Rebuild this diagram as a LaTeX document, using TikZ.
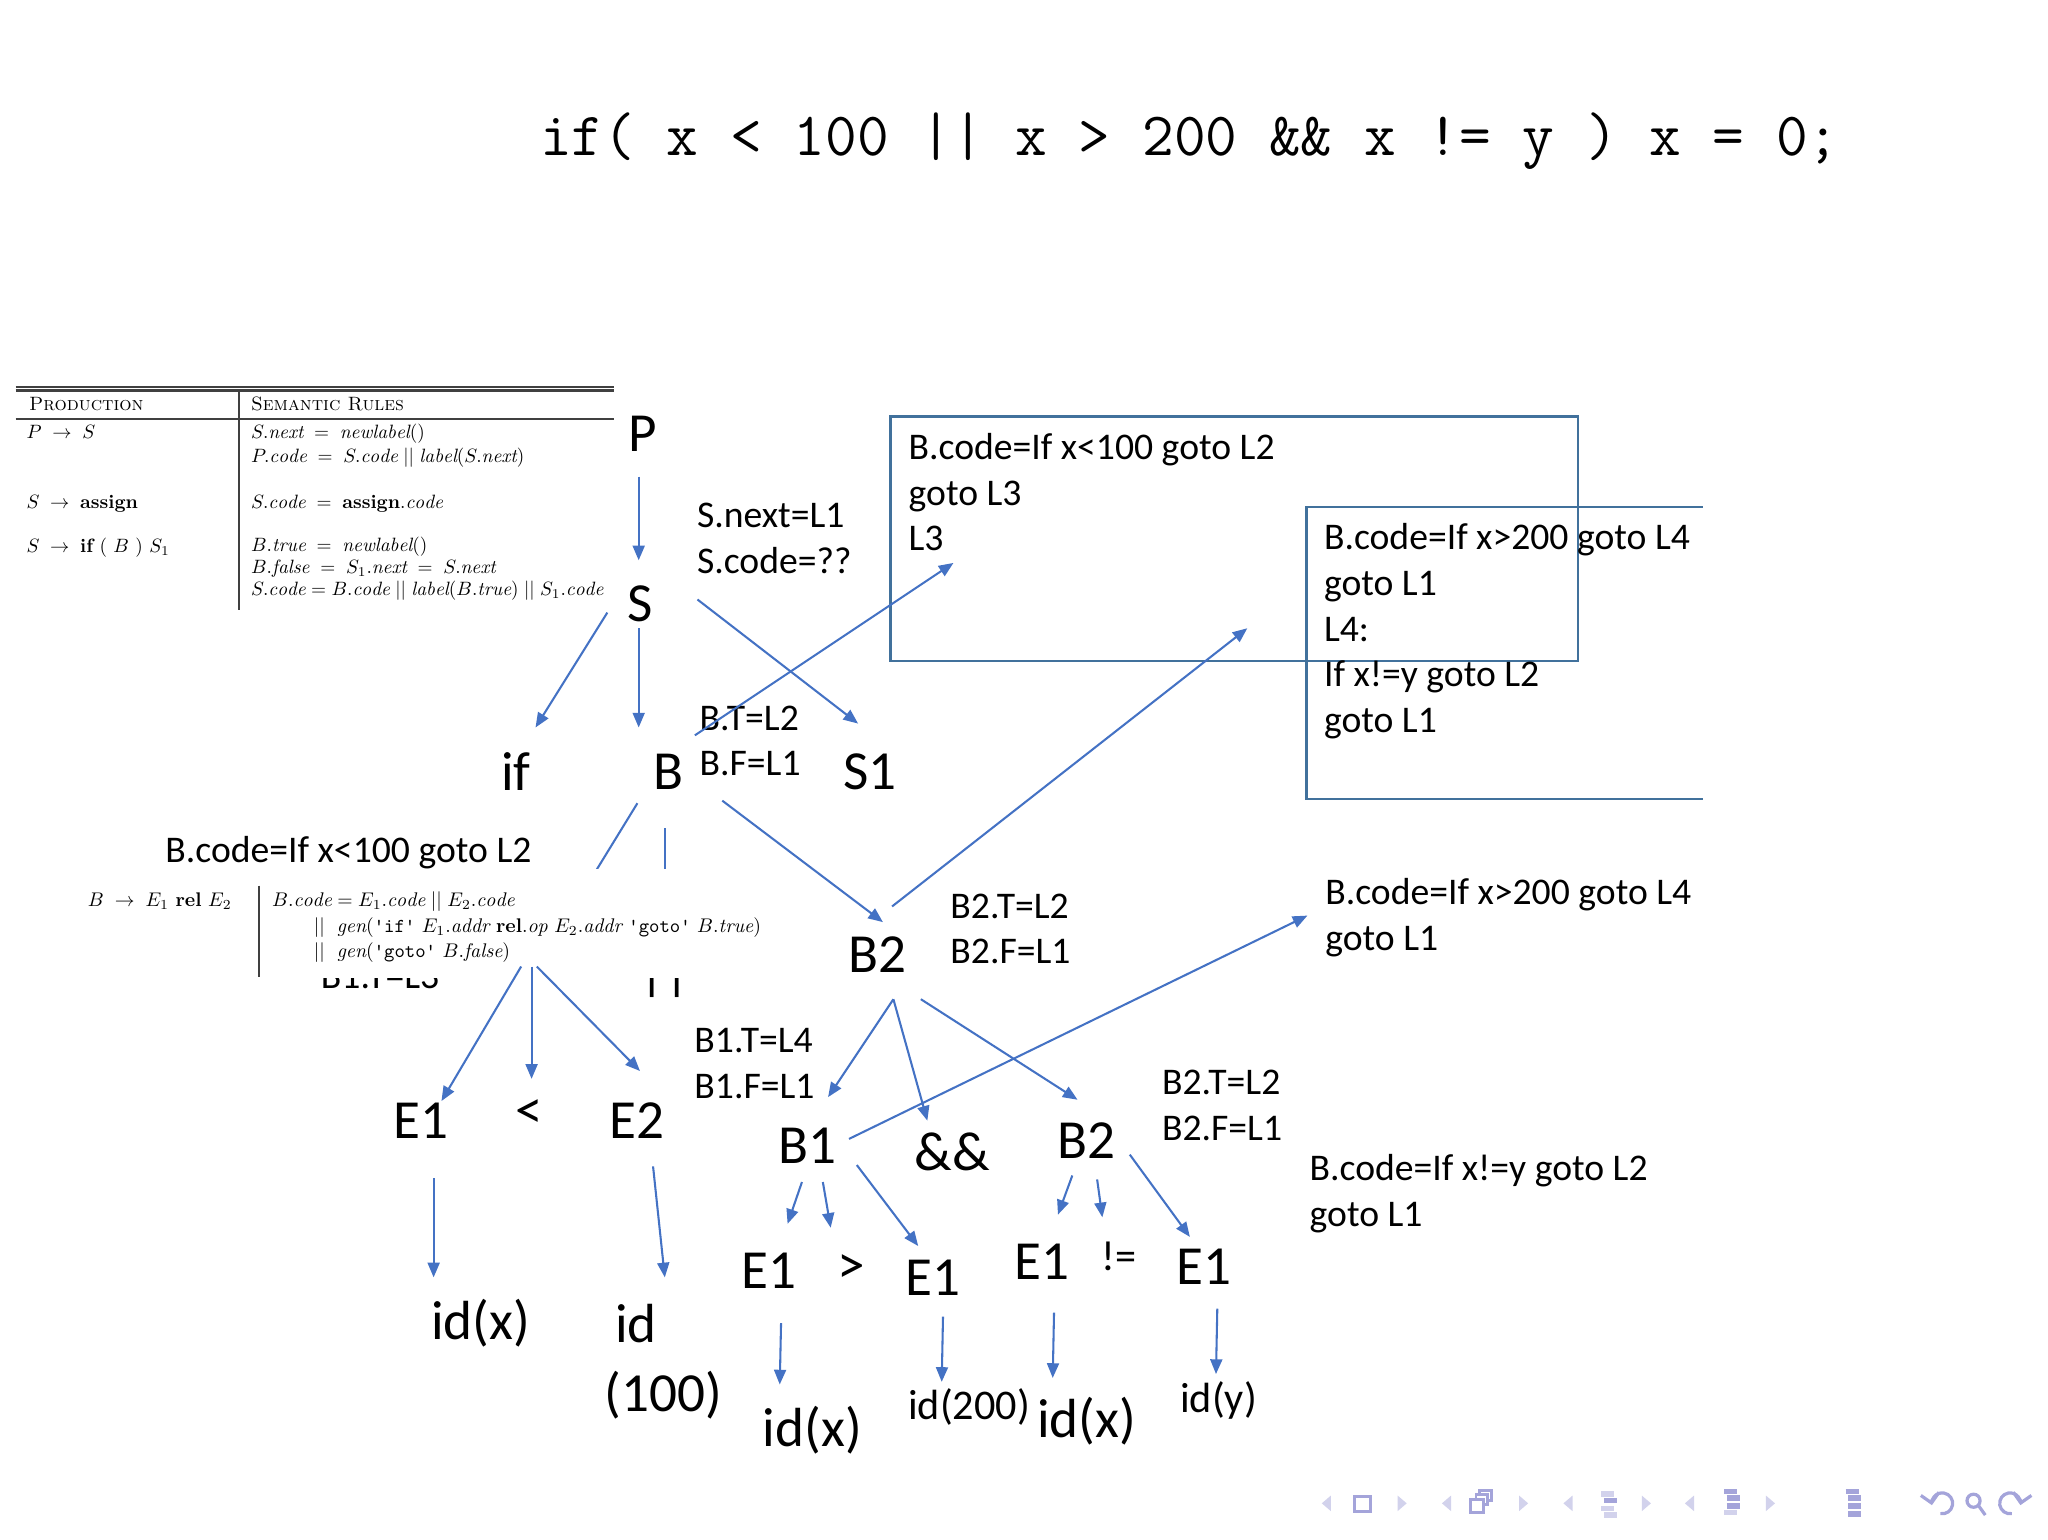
\RequirePackage{fix-cm}
\documentclass[tikz,border=0pt]{standalone}
\usepackage{fontspec}
\newfontfamily\calfont{Carlito}
\usetikzlibrary{arrows.meta,calc}
\definecolor{arrblue}{HTML}{4472C4}
\definecolor{boxblue}{HTML}{41719C}
\definecolor{navlight}{HTML}{D2D2EC}
\definecolor{navdark}{HTML}{A4A4DA}

\begin{document}
\begin{tikzpicture}[x=0.01cm, y=-0.01cm,
    bignode/.style={font=\calfont\fontsize{12}{14}\selectfont, inner sep=0pt},
    midnode/.style={font=\calfont\fontsize{9.2}{11}\selectfont, inner sep=0pt},
    labtxt/.style={font=\calfont\fontsize{8.2}{9.96}\selectfont, inner sep=0pt, anchor=base west},
    codetxt/.style={font=\calfont\fontsize{8.2}{9.96}\selectfont, inner sep=0pt, anchor=north west, align=left},
    tabtxt/.style={font=\fontsize{10}{12}\selectfont, inner sep=0pt, anchor=base west, scale=0.42},
    mtabtxt/.style={font=\fontsize{10}{12}\selectfont, inner sep=0pt, anchor=base west, scale=0.43},
    arrline/.style={-{Triangle[length=3.2pt,width=2.6pt]}, arrblue, line width=0.45pt},
    plainline/.style={arrblue, line width=0.45pt},
    boxline/.style={boxblue, line width=0.5pt},
    rule/.style={black!75, line width=0.45pt}]
    \useasboundingbox (0,0) rectangle (1568,1179);

    % 源程序
    \node[font=\ttfamily\fontsize{13.4}{15}\selectfont, inner sep=0pt] (src) at (911,108)
        {if( x < 100 || x > 200 \&\& x != y ) x = 0;};

    % 左上角的语法制导定义表
    \draw[rule] (12,296) -- (470,296);
    \draw[rule] (12,299) -- (470,299);
    \draw[rule] (12,321) -- (470,321);
    \draw[rule] (183,299) -- (183,467);
    \node[tabtxt] (th1) at (22,314) {\textsc{Production}};
    \node[tabtxt] (th2) at (192,314) {\textsc{Semantic Rules}};
    \node[tabtxt] (r1a) at (20,336) {$P \;\rightarrow\; S$};
    \node[tabtxt] (r1b) at (192,336) {$S.\mathit{next} \;=\; \mathit{newlabel}()$};
    \node[tabtxt] (r1c) at (192,354) {$P.\mathit{code} \;=\; S.\mathit{code} \mathrel{||} \mathit{label}(S.\mathit{next})$};
    \node[tabtxt] (r2a) at (20,389) {$S \;\rightarrow\; \textbf{assign}$};
    \node[tabtxt] (r2b) at (192,389) {$S.\mathit{code} \;=\; \textbf{assign}.\mathit{code}$};
    \node[tabtxt] (r3a) at (20,423) {$S \;\rightarrow\; \textbf{if}\ (\ B\ )\ S_1$};
    \node[tabtxt] (r3b) at (192,422) {$B.\mathit{true} \;=\; \mathit{newlabel}()$};
    \node[tabtxt] (r3c) at (192,439) {$B.\mathit{false} \;=\; S_1.\mathit{next} \;=\; S.\mathit{next}$};
    \node[tabtxt] (r3d) at (192,456) {$S.\mathit{code} = B.\mathit{code} \mathrel{||} \mathit{label}(B.\mathit{true}) \mathrel{||} S_1.\mathit{code}$};

    % 语法树结点
    \node[bignode] (P) at (492,332) {P};
    \node[bignode] (S) at (490,462) {S};
    \node[bignode] (kif) at (395,591) {if};
    \node[bignode] (B) at (512,591) {B};
    \node[bignode] (S1) at (666,591) {S1};
    \node[bignode] (B2) at (672,731) {B2};
    \node[bignode] (E1a) at (322,858) {E1};
    \node[bignode] (lt) at (405,853) {<};
    \node[bignode] (E2) at (488,858) {E2};
    \node[bignode] (idxa) at (368,1013) {id(x)};
    \node[bignode] (idh) at (487,1013) {id};
    \node[bignode] (idn) at (508,1068) {(100)};
    \node[bignode] (B1) at (618,877) {B1};
    \node[bignode] (amp) at (729,882) {\&\&};
    \node[bignode] (B2b) at (832,873) {B2};
    \node[bignode] (E1b) at (589,973) {E1};
    \node[bignode] (gt) at (652,972) {>};
    \node[bignode] (E1c) at (714,978) {E1};
    \node[bignode] (E1d) at (798,966) {E1};
    \node[midnode] (ne) at (857,962) {!=};
    \node[bignode] (E1e) at (922,970) {E1};
    \node[bignode] (idxb) at (622,1095) {id(x)};
    \node[midnode] (id200) at (742,1077) {id(200)};
    \node[bignode] (idxc) at (832,1088) {id(x)};
    \node[midnode] (idy) at (933,1072) {id(y)};

    % 属性标注
    \node[labtxt] (snext) at (533,404) {S.next=L1};
    \node[labtxt] (scode) at (533,439) {S.code=??};
    \node[labtxt] (bt) at (535,559) {B.T=L2};
    \node[labtxt] (bf) at (535,594) {B.F=L1};
    \node[labtxt] (bcode) at (126,660) {B.code=If x<100 goto L2};
    \node[labtxt] (b2t) at (727,703) {B2.T=L2};
    \node[labtxt] (b2f) at (727,738) {B2.F=L1};
    \node[labtxt] (b1t) at (531,806) {B1.T=L4};
    \node[labtxt] (b1f) at (531,841) {B1.F=L1};
    \node[labtxt] (b2bt) at (889,838) {B2.T=L2};
    \node[labtxt] (b2bf) at (889,873) {B2.F=L1};

    % 代码框
    \node[draw, boxline, inner sep=0pt, minimum width=5.26cm, minimum height=1.87cm] (box1) at (945,412.5) {};
    \node[codetxt] (code1) at (695,331) {B.code=If x<100 goto L2\\goto L3\\L3};
    \node[inner sep=0pt, minimum width=3.02cm, minimum height=2.22cm] (box2) at (1152,500) {};
    \draw[boxline] (box2.north east) -- (box2.north west) -- (box2.south west) -- (box2.south east);
    \node[codetxt] (code2) at (1013,400) {B.code=If x>200 goto L4\\goto L1\\L4:\\If x!=y goto L2\\goto L1};
    \node[codetxt] (code3) at (1014,672) {B.code=If x>200 goto L4\\goto L1};
    \node[codetxt] (code4) at (1002,883) {B.code=If x!=y goto L2\\goto L1};

    % 被表格遮住的部分
    \coordinate (Bl) at (442,690);
    \coordinate (Bv) at (509,700);
    \coordinate (Bsub) at (407,740);
    \draw[plainline] ($(B)+(-24,24)$) -- (Bl);
    \draw[plainline] ($(B)+(-3,43)$) -- (Bv);
    \node[labtxt] (hid1) at (245,757) {B1.T=L3};
    \node[labtxt, font=\calfont\fontsize{12}{14}\selectfont] (hid2) at (489,757) {||};

    % 中间的表格
    \fill[white] (62,665) rectangle (582,749);
    \draw[rule] (198,678) -- (198,748);
    \node[mtabtxt] (m1) at (67,694) {$B \;\rightarrow\; E_1\ \textbf{rel}\ E_2$};
    \node[mtabtxt] (m2) at (208,694) {$B.\mathit{code} = E_1.\mathit{code} \mathrel{||} E_2.\mathit{code}$};
    \node[mtabtxt] (m3) at (240,714) {$\mathrel{||}\ \mathit{gen}(\texttt{'if'}\ E_1.\mathit{addr}\ \textbf{rel}.\mathit{op}\ E_2.\mathit{addr}\ \texttt{'goto'}\ B.\mathit{true})$};
    \node[mtabtxt] (m4) at (240,733) {$\mathrel{||}\ \mathit{gen}(\texttt{'goto'}\ B.\mathit{false})$};

    % 语法树的边
    \draw[arrline] ($(P)+(-3,33)$) -- ($(S)+(-1,-33)$);
    \draw[arrline] ($(S)+(-25,7)$) -- ($(kif)+(15,-34)$);
    \draw[arrline] ($(S)+(-1,19)$) -- ($(B)+(-23,-34)$);
    \draw[arrline] ($(S)+(44,-3)$) -- ($(S1)+(-9,-37)$);
    \draw[arrline] ($(B)+(20,-28)$) -- ($(box1)+(-215,18.5)$);
    \draw[arrline] ($(B)+(41,22)$) -- ($(B2)+(4,-25)$);
    \draw[arrline] ($(B2)+(11,-37)$) -- ($(box1)+(10,68.5)$);
    \draw[arrline] ($(Bsub)+(-8,0)$) -- ($(E1a)+(16,-15)$);
    \draw[arrline] (Bsub) -- ($(lt)+(2,-27)$);
    \draw[arrline] ($(Bsub)+(4,0)$) -- ($(E2)+(2,-38)$);
    \draw[arrline] ($(E1a)+(10,44)$) -- ($(idxa)+(-36,-35)$);
    \draw[arrline] ($(E2)+(12,35)$) -- ($(idh)+(22,-35)$);
    \draw[arrline] ($(B2)+(12,34)$) -- ($(B1)+(16,-37)$);
    \draw[arrline] ($(B2)+(12,34)$) -- ($(amp)+(-19,-24)$);
    \draw[arrline] ($(B2)+(33,34)$) -- ($(B2b)+(-7,-31)$);
    \draw[arrline] ($(B1)+(32,-5)$) -- ($(code3.north west)+(-13,29)$);
    \draw[arrline] ($(B1)+(-4,28)$) -- ($(E1b)+(14,-36)$);
    \draw[arrline] ($(B1)+(12,28)$) -- ($(gt)+(-16,-32)$);
    \draw[arrline] ($(B1)+(38,15)$) -- ($(E1c)+(-11,-24)$);
    \draw[arrline] ($(B2b)+(-11,27)$) -- ($(E1d)+(12,-36)$);
    \draw[arrline] ($(B2b)+(8,30)$) -- ($(ne)+(-13,-30)$);
    \draw[arrline] ($(B2b)+(33,11)$) -- ($(E1e)+(-11,-23)$);
    \draw[arrline] ($(E1b)+(9,40)$) -- ($(idxb)+(-25,-35)$);
    \draw[arrline] ($(E1c)+(8,30)$) -- ($(id200)+(-21,-19)$);
    \draw[arrline] ($(E1d)+(9,39)$) -- ($(idxc)+(-26,-33)$);
    \draw[arrline] ($(E1e)+(10,32)$) -- ($(idy)+(-2,-20)$);

    % 右下角的导航符号
    \fill[navlight] (1019,1145) -- (1012,1151) -- (1019,1157) -- cycle;
    \draw[navdark, line width=0.6pt] (1037,1146) rectangle (1049,1157);
    \fill[navlight] (1070,1145) -- (1077,1151) -- (1070,1157) -- cycle;
    \fill[navlight] (1111,1145) -- (1104,1151) -- (1111,1157) -- cycle;
    \draw[navdark, line width=0.6pt] (1126,1148) rectangle (1136,1158);
    \draw[navdark, line width=0.6pt] (1130,1145) -- (1130,1148) (1136,1152) -- (1139,1152) -- (1139,1144) -- (1130,1144) -- (1130,1148);
    \draw[navdark, line width=0.6pt] (1133,1144) -- (1133,1141) -- (1142,1141) -- (1142,1149) -- (1139,1149);
    \fill[navlight] (1163,1145) -- (1170,1151) -- (1163,1157) -- cycle;
    \fill[navlight] (1204,1145) -- (1197,1151) -- (1204,1157) -- cycle;
    \draw[navlight, line width=1.2pt] (1226,1144) -- (1236,1144) (1226,1155) -- (1236,1155) (1228,1160) -- (1238,1160);
    \draw[navdark, line width=1.2pt] (1228,1149) -- (1238,1149);
    \fill[navlight] (1257,1145) -- (1264,1151) -- (1257,1157) -- cycle;
    \fill[navlight] (1297,1145) -- (1290,1151) -- (1297,1157) -- cycle;
    \draw[navdark, line width=1.2pt] (1320,1142) -- (1330,1142) (1322,1147) -- (1332,1147) (1322,1153) -- (1332,1153);
    \draw[navlight, line width=1.2pt] (1320,1158) -- (1330,1158);
    \fill[navlight] (1352,1145) -- (1359,1151) -- (1352,1157) -- cycle;
    \draw[navdark, line width=1.2pt] (1413,1142) -- (1423,1142) (1415,1147) -- (1425,1147) (1415,1153) -- (1425,1153) (1415,1159) -- (1425,1159);
    \draw[navdark, line width=0.7pt, -{Straight Barb[length=2pt]}] ([shift={(-260:8)}]1487,1151) arc[start angle=-260, end angle=-550, radius=8];
    \draw[navdark, line width=0.7pt] (1511,1149) circle[radius=5] (1515,1153) -- (1520,1160);
    \draw[navdark, line width=0.7pt, -{Straight Barb[length=2pt]}] ([shift={(80:8)}]1539,1151) arc[start angle=80, end angle=370, radius=8];
\end{tikzpicture}
\end{document}
